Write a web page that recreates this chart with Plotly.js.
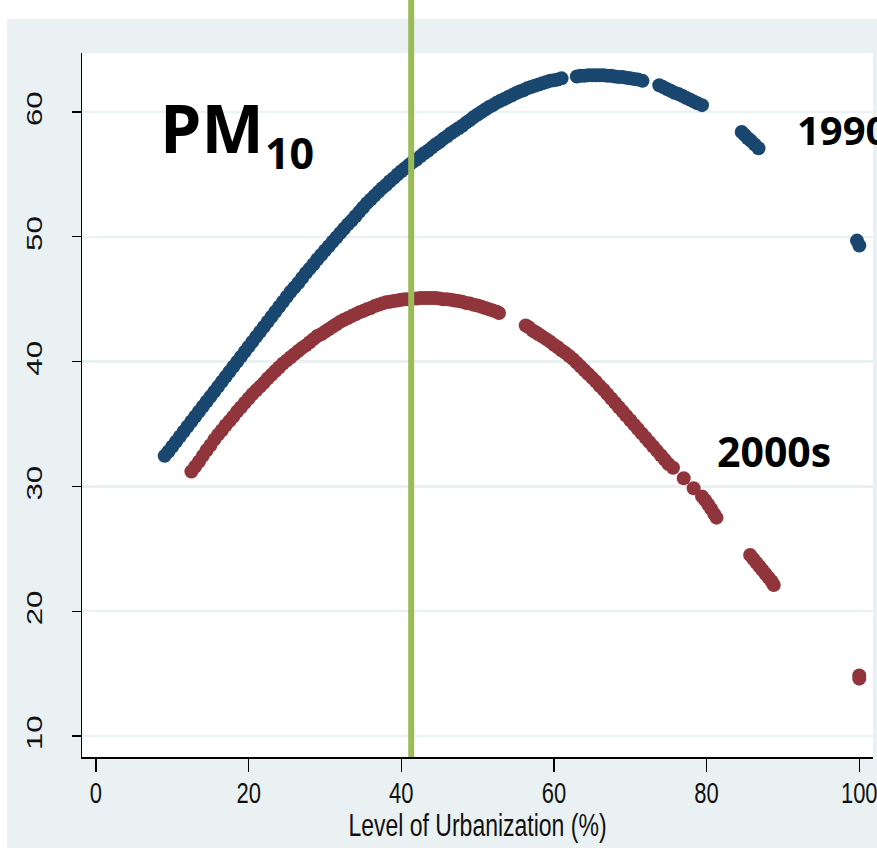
<!DOCTYPE html>
<html>
<head>
<meta charset="utf-8">
<script src="https://cdn.plot.ly/plotly-3.0.1.min.js"></script>
<style>
html,body{margin:0;padding:0;background:#ffffff;overflow:hidden;}
#bg{position:absolute;left:7px;top:19px;width:870px;height:829px;background:#EAF1F3;}
#chart{position:absolute;left:0;top:0;width:877px;height:851px;}
</style>
</head>
<body>
<div id="bg"></div>
<div id="chart"></div>
<script>
// ---- data ----
const xTicks = [0, 20, 40, 60, 80, 100];
const yTicks = [10, 20, 30, 40, 50, 60];

const urb1990 = [
  9,9.5,10,10.5,11,11.5,12,12.5,13,13.5,14,14.5,15,15.5,16,16.5,17,17.5,18,18.5,19,19.5,
  20,20.5,21,21.5,22,22.5,23,23.5,24,24.5,25,25.5,26,26.5,27,27.5,28,28.5,29,29.5,
  30,30.5,31,31.5,32,32.5,33,33.5,34,34.5,35,35.5,36,36.5,37,37.5,38,38.5,39,39.5,
  40,40.5,41,41.5,42,42.5,43,43.5,44,44.5,45,45.5,46,46.5,47,47.5,48,48.5,49,49.5,
  50,50.5,51,51.5,52,52.5,53,53.5,54,54.5,55,55.5,56,56.5,57,57.5,58,58.5,59,59.5,
  60,60.5,61,
  63,63.5,64,64.5,65,65.5,66,66.5,67,67.5,68,68.5,69,69.5,70,70.5,71,71.6,
  73.8,74.3,74.8,75.3,75.8,76.3,76.8,77.3,77.8,78.3,78.8,79.4,
  84.6,85.0,85.4,85.8,86.3,86.8,
  99.7,100];
const pm1990 = [
  32.45,32.8,33.2,33.6,34.0,34.4,34.8,35.2,35.6,36.0,36.4,36.8,37.2,37.6,38.0,38.4,38.8,39.2,39.6,40.0,40.4,40.8,
  41.2,41.6,42.0,42.4,42.8,43.2,43.6,44.0,44.4,44.8,45.2,45.6,45.95,46.3,46.7,47.1,47.45,47.8,48.2,48.55,
  48.9,49.25,49.6,49.95,50.3,50.65,51.0,51.3,51.65,52.0,52.35,52.7,53.0,53.3,53.6,53.9,54.15,54.45,54.7,55.0,
  55.25,55.5,55.75,56.0,56.2,56.45,56.7,56.9,57.15,57.4,57.6,57.85,58.05,58.3,58.5,58.7,58.9,59.15,59.35,59.6,
  59.8,60.0,60.2,60.4,60.55,60.75,60.9,61.05,61.2,61.35,61.5,61.65,61.75,61.9,62.0,62.1,62.2,62.3,62.4,62.5,
  62.55,62.6,62.7,
  62.85,62.9,62.9,62.95,62.95,62.95,62.95,62.95,62.9,62.9,62.85,62.8,62.8,62.75,62.7,62.65,62.6,62.5,
  62.15,62.0,61.85,61.7,61.55,61.45,61.3,61.15,61.0,60.85,60.7,60.55,
  58.4,58.15,57.9,57.7,57.4,57.1,
  49.7,49.3];

const urb2000 = [
  12.5,13,13.5,14,14.5,15,15.5,16,16.5,17,17.5,18,18.5,19,19.5,
  20,20.5,21,21.5,22,22.5,23,23.5,24,24.5,25,25.5,26,26.5,27,27.5,28,28.5,29,29.5,
  30,30.5,31,31.5,32,32.5,33,33.5,34,34.5,35,35.5,36,36.5,37,37.5,38,38.5,39,39.5,
  40,40.5,41,41.5,42,42.5,43,43.5,44,44.5,45,45.5,46,46.5,47,47.5,48,48.5,49,49.5,
  50,50.5,51,51.5,52,52.5,52.8,
  56.3,56.7,57.2,57.6,58,58.5,59,59.5,60,60.5,61,61.5,62,62.5,63,63.5,64,64.5,65,65.5,
  66,66.5,67,67.5,68,68.5,69,69.5,70,70.5,71,71.5,72,72.5,73,73.5,74,74.5,75,75.6,
  77.0,78.3,
  79.4,79.8,80.2,80.6,81.0,81.3,
  85.7,86.1,86.5,86.9,87.3,87.7,88.1,88.5,88.8,
  100,100];
const pm2000 = [
  31.2,31.6,32.0,32.45,32.9,33.3,33.75,34.15,34.5,34.9,35.25,35.6,36.0,36.35,36.7,
  37.05,37.4,37.7,38.0,38.3,38.65,38.95,39.25,39.55,39.85,40.1,40.35,40.6,40.85,41.1,41.3,41.55,41.8,42.05,42.2,
  42.4,42.6,42.8,43.0,43.2,43.35,43.5,43.65,43.8,43.95,44.05,44.2,44.3,44.45,44.55,44.65,44.75,44.8,44.85,44.9,
  44.95,45.0,45.0,45.05,45.05,45.1,45.1,45.1,45.1,45.1,45.05,45.0,45.0,44.95,44.9,44.85,44.8,44.7,44.65,44.55,
  44.5,44.4,44.3,44.2,44.1,44.0,43.9,
  42.9,42.75,42.5,42.35,42.2,42.0,41.8,41.6,41.35,41.15,40.9,40.7,40.45,40.2,39.9,39.6,39.3,39.0,38.7,38.4,
  38.05,37.75,37.4,37.05,36.7,36.35,36.0,35.65,35.3,34.95,34.6,34.25,33.9,33.55,33.2,32.85,32.5,32.15,31.8,31.5,
  30.65,29.85,
  29.2,28.9,28.55,28.2,27.8,27.5,
  24.5,24.2,23.9,23.6,23.3,23.0,22.7,22.4,22.1,
  14.85,14.6];

const thresholdUrb = 41.3;
const labelTitle = ['PM', '10'];
const seriesLabels = ['1990s', '2000s'];
const xTitle = 'Level of Urbanization (%)';

// ---- chart ----
const tickFont = {family: 'Liberation Sans, Arial, sans-serif', size: 22, color: '#111111'};
const annFont = {family: 'Open Sans, sans-serif', color: '#000000', weight: 700};

const data = [
  {type: 'scatter', mode: 'markers', x: urb1990, y: pm1990, name: seriesLabels[0],
   marker: {size: 14, color: '#1A476F', line: {width: 0}}, hoverinfo: 'skip'},
  {type: 'scatter', mode: 'markers', x: urb2000, y: pm2000, name: seriesLabels[1],
   marker: {size: 14, color: '#90353B', line: {width: 0}}, hoverinfo: 'skip'}
];

const layout = {
  width: 877, height: 851,
  margin: {l: 82, r: 4, t: 53, b: 94, pad: 0},
  paper_bgcolor: 'rgba(0,0,0,0)',
  plot_bgcolor: '#ffffff',
  showlegend: false,
  xaxis: {
    range: [-1.83, 101.8], tickvals: xTicks, ticktext: xTicks.map(String),
    ticks: 'outside', ticklen: 13, tickwidth: 1.3, tickcolor: '#000000',
    showline: true, linecolor: '#000000', linewidth: 1.5,
    showgrid: false, zeroline: false, ticklabeloverflow: 'allow',
    tickfont: tickFont, ticklabelstandoff: 2,
    title: {text: xTitle, font: {family: 'Liberation Sans, Arial, sans-serif', size: 23, color: '#111111'}, standoff: 13}
  },
  yaxis: {
    range: [8.32, 64.73], tickvals: yTicks, ticktext: yTicks.map(String),
    ticks: 'outside', ticklen: 9, tickwidth: 1.3, tickcolor: '#000000',
    showline: true, linecolor: '#000000', linewidth: 1.5,
    showgrid: true, gridcolor: '#EAF1F3', gridwidth: 2.5, zeroline: false,
    tickangle: -90, tickfont: tickFont, ticklabelstandoff: 21
  },
  shapes: [{
    type: 'line', xref: 'x', yref: 'paper', x0: thresholdUrb, x1: thresholdUrb, y0: 0, y1: 1.09,
    line: {color: '#9BBB59', width: 6}, layer: 'above'
  }],
  annotations: [
    {text: labelTitle[0], x: 8.1, y: 58.84, xref: 'x', yref: 'y', xanchor: 'left', yanchor: 'middle',
     showarrow: false, font: Object.assign({size: 66}, annFont)},
    {text: labelTitle[1], x: 21.9, y: 56.75, xref: 'x', yref: 'y', xanchor: 'left', yanchor: 'middle',
     showarrow: false, font: Object.assign({size: 43}, annFont)},
    {text: seriesLabels[0], x: 91.6, y: 58.64, xref: 'x', yref: 'y', xanchor: 'left', yanchor: 'middle',
     showarrow: false, font: Object.assign({size: 40}, annFont)},
    {text: seriesLabels[1], x: 81.1, y: 32.84, xref: 'x', yref: 'y', xanchor: 'left', yanchor: 'middle',
     showarrow: false, font: Object.assign({size: 41}, annFont)}
  ]
};

function stretchText(root, selector, k) {
  root.querySelectorAll(selector).forEach(function (t) {
    const bb = t.getBBox();
    const svg = t.ownerSVGElement;
    const cons = t.transform.baseVal.consolidate();
    const mat = cons ? cons.matrix : svg.createSVGMatrix();
    const p = svg.createSVGPoint();
    p.x = bb.x + bb.width / 2; p.y = bb.y + bb.height / 2;
    const q = p.matrixTransform(mat);
    const old = t.getAttribute('transform') || '';
    t.setAttribute('transform', 'translate(' + q.x + ',' + q.y + ') scale(1,' + k + ') translate(' + (-q.x) + ',' + (-q.y) + ') ' + old);
  });
}

Plotly.newPlot('chart', data, layout, {staticPlot: true, displayModeBar: false}).then(function (gd) {
  stretchText(gd, '.xtick text', 1.35);
  stretchText(gd, '.ytick text', 1.42);
  stretchText(gd, '.xtitle', 1.33);
});
</script>
</body>
</html>
